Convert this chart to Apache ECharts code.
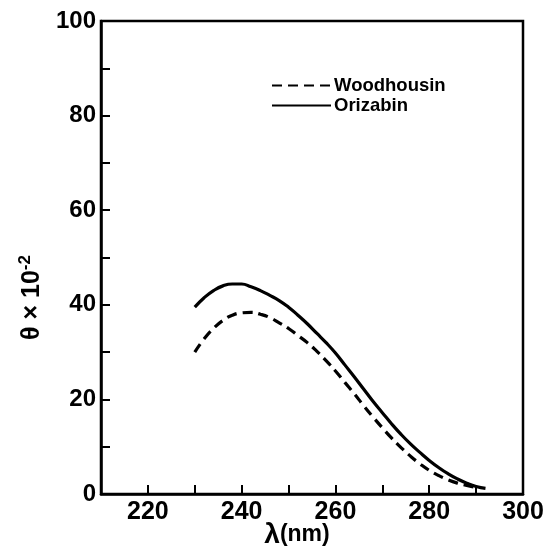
<!DOCTYPE html>
<html>
<head>
<meta charset="utf-8">
<script src="https://cdn.jsdelivr.net/npm/echarts@6/dist/echarts.min.js"></script>
<style>html,body{margin:0;padding:0;background:#fff}#c{width:546px;height:553px}</style>
</head>
<body>
<div id="c"></div>
<script>
var wavelength = [230,232,234,236,238,240,242,244,246,248,250,252,254,256,258,260,262,264,266,268,270,272,274,276,278,280,282,284,286,288,290,292];
var orizabin = [39.5,41.5,43,44,44.4,44.4,43.8,43,42,40.9,39.5,37.8,36,34,32,29.8,27.3,24.8,22.2,19.6,17.2,14.8,12.6,10.6,8.8,7.1,5.6,4.3,3.2,2.3,1.6,1.2];
var woodhousin = [30,32.8,35,36.7,37.8,38.3,38.4,38,37.3,36.2,35,33.5,32,30.2,28.2,26,23.6,21.2,18.7,16.3,14,11.8,9.8,8,6.4,5,3.9,3,2.3,1.8,1.4,null];
var xTickLabels = [220,240,260,280,300];
var yTickLabels = [0,20,40,60,80,100];

function pairs(xs, ys){ var out=[]; for(var i=0;i<xs.length;i++){ if(ys[i]!=null) out.push([xs[i], ys[i]]); } return out; }

var chart = echarts.init(document.getElementById('c'), null, {renderer:'canvas'});
var font = 'Liberation Sans';
chart.setOption({
  animation:false,
  backgroundColor:'#fff',
  grid:{left:101,right:23,top:21,bottom:59,containLabel:false,outerBoundsMode:'none',show:true,borderColor:'#000',borderWidth:2.5,backgroundColor:'transparent'},
  legend:{
    left:266, top:71, orient:'vertical', itemWidth:59, itemHeight:14, itemGap:1,
    itemStyle:{opacity:0},
    textStyle:{fontFamily:font,fontWeight:'bold',fontSize:18.5,color:'#000',padding:[0,0,0,-2]},
    data:['Woodhousin','Orizabin']
  },
  xAxis:{
    type:'value', min:210, max:300, interval:10,
    axisLine:{lineStyle:{color:'#000',width:2.5}},
    axisTick:{inside:true,length:9,lineStyle:{color:'#000',width:2}},
    splitLine:{show:false},
    axisLabel:{fontFamily:font,fontWeight:'bold',fontSize:25,color:'#000',margin:6,
      formatter:function(v){return xTickLabels.indexOf(v)>=0? String(v):'';}},
    name:'{l|λ}{n|(nm)}', nameLocation:'middle', nameGap:27, nameMoveOverlap:false,
    nameTextStyle:{padding:[0,30,0,0],rich:{l:{fontFamily:font,fontWeight:'bold',fontSize:28,color:'#000'},n:{fontFamily:font,fontWeight:'bold',fontSize:23,color:'#000'}}}
  },
  yAxis:{
    type:'value', min:0, max:100, interval:10,
    axisLine:{lineStyle:{color:'#000',width:2.5}},
    axisTick:{inside:true,length:9,lineStyle:{color:'#000',width:2}},
    splitLine:{show:false},
    axisLabel:{fontFamily:font,fontWeight:'bold',fontSize:24,color:'#000',margin:5,
      formatter:function(v){return yTickLabels.indexOf(v)>=0? String(v):'';}},
    name:'{t|θ × 10}{s|-2}', nameLocation:'middle', nameGap:52, nameRotate:90,
    nameTextStyle:{padding:[0,80,0,0],rich:{t:{fontFamily:font,fontWeight:'bold',fontSize:25,color:'#000'},s:{fontFamily:font,fontWeight:'bold',fontSize:17,color:'#000',padding:[0,0,14,0]}}}
  },
  series:[
    {name:'Woodhousin',type:'line',data:pairs(wavelength,woodhousin),smooth:true,symbol:'none',
     lineStyle:{color:'#000',width:3.2,type:[10,6]},itemStyle:{color:'#000'}},
    {name:'Orizabin',type:'line',data:pairs(wavelength,orizabin),smooth:true,symbol:'none',
     lineStyle:{color:'#000',width:3.2,type:'solid'},itemStyle:{color:'#000'}}
  ]
});
</script>
</body>
</html>
